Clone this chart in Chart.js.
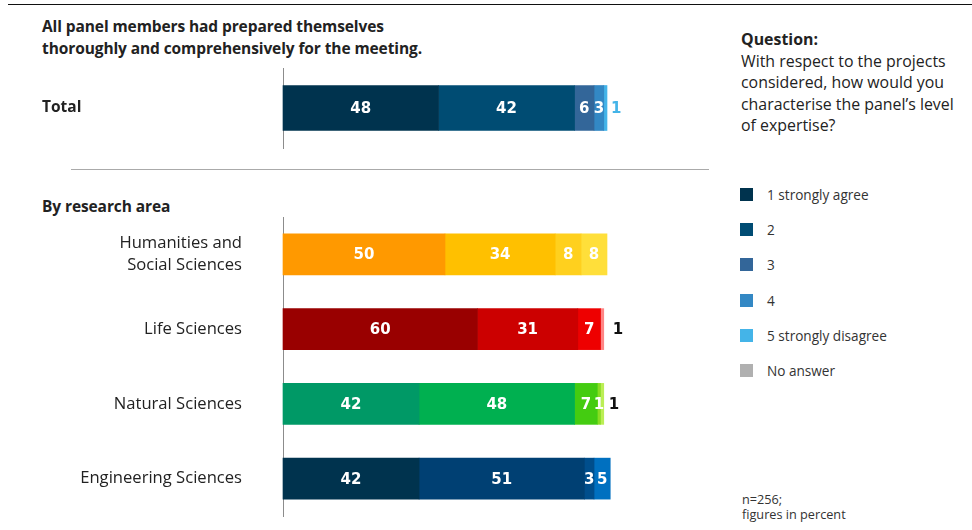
<!DOCTYPE html>
<html>
<head>
<meta charset="utf-8">
<script src="https://cdn.jsdelivr.net/npm/chart.js@4/dist/chart.umd.min.js"></script>
<style>
  html, body { margin: 0; padding: 0; background: #fff; }
  #wrap { position: relative; width: 972px; height: 530px; overflow: hidden; font-family: "Open Sans", Lato, sans-serif; color: #222; }
  .abs { position: absolute; }
  #topline { left: 8px; top: 4px; width: 964px; height: 0; border-top: 1.5px solid #111; }
  #title { left: 42px; top: 15px; font-weight: bold; font-size: 15.5px; line-height: 22px; letter-spacing: -0.1px; }
  #sep { left: 71px; top: 169px; width: 638px; height: 0; border-top: 1.5px solid #aaa; }
  #byarea { left: 42px; top: 195px; font-weight: bold; font-size: 15.5px; line-height: 22px; letter-spacing: -0.1px; }
  #question { left: 741px; top: 29px; font-size: 15.9px; line-height: 21.6px; color: #222; }
  #question b { font-weight: bold; }
  #legend { left: 740px; top: 0; }
  .li { position: absolute; left: 0; width: 240px; height: 20px; }
  .li span.sq { position: absolute; left: 0; top: 3px; width: 13px; height: 13px; }
  .li span.tx { position: absolute; left: 27px; top: 0; font-size: 13.6px; line-height: 20px; color: #333; white-space: nowrap; }
  #foot { left: 742px; top: 492px; font-size: 12.7px; line-height: 15px; color: #333; }
  canvas { position: absolute; left: 0; }
</style>
</head>
<body>
<div id="wrap">
  <div id="topline" class="abs"></div>
  <div id="title" class="abs">All panel members had prepared themselves<br>thoroughly and comprehensively for the meeting.</div>
  <div id="sep" class="abs"></div>
  <div id="byarea" class="abs">By research area</div>
  <div id="question" class="abs"><b>Question:</b><br>With respect to the projects<br>considered, how would you<br>characterise the panel’s level<br>of expertise?</div>
  <div id="legend" class="abs"></div>
  <div id="foot" class="abs">n=256;<br>figures in percent</div>
  <canvas id="c1" width="700" height="100" style="top:60px"></canvas>
  <canvas id="c2" width="700" height="330" style="top:200px"></canvas>
</div>
<script>
// ---- Data ----
const legendLabels = ['1 strongly agree', '2', '3', '4', '5 strongly disagree', 'No answer'];
const totalCategory = ['Total'];
const totalValues = [48, 42, 6, 3, 1];
const areaCategories = [['Humanities and', 'Social Sciences'], 'Life Sciences', 'Natural Sciences', 'Engineering Sciences'];
const humanitiesValues = [50, 34, 8, 8];
const lifeValues = [60, 31, 7, 1];
const naturalValues = [42, 48, 7, 1, 1];
const engineeringValues = [42, 51, 3, 5];

// ---- Styles ----
const legendColors = ['#00334E', '#004C73', '#336699', '#3388C4', '#44B4E8', '#B0B0B0'];
const totalColors = ['#00334E', '#004C73', '#336699', '#3388C4', '#44B4E8'];
const humanitiesColors = ['#FF9900', '#FFC000', '#FFD01E', '#FFDF3A'];
const lifeColors = ['#990000', '#CC0000', '#EE0000', '#FF8585'];
const naturalColors = ['#009966', '#00B050', '#44CC11', '#88DD22', '#BBEE55'];
const engineeringColors = ['#00334E', '#004073', '#004E8C', '#0070C0'];
// label placement: null = inside (white); otherwise outside with colour & offset
const totalLabelOut = [null, null, null, null, {color: '#44B4E8', dx: 4}];
const humanitiesLabelOut = [null, null, null, null];
const lifeLabelOut = [null, null, null, {color: '#111', dx: 9}];
const naturalLabelOut = [null, null, null, null, {color: '#111', dx: 5}];
const engineeringLabelOut = [null, null, null, null];

// ---- Legend (HTML) ----
const legendTop = 185, legendStep = 35.2;
const legendEl = document.getElementById('legend');
legendLabels.forEach((lab, i) => {
  const d = document.createElement('div');
  d.className = 'li';
  d.style.top = (legendTop + i * legendStep) + 'px';
  d.innerHTML = '<span class="sq" style="background:' + legendColors[i] + '"></span><span class="tx">' + lab + '</span>';
  legendEl.appendChild(d);
});

const labelPlugin = {
  id: 'segLabels',
  afterDatasetsDraw(chart) {
    const ctx = chart.ctx;
    const outCfg = chart.options.plugins.segLabels.out;
    ctx.save();
    ctx.font = 'bold 15px "DejaVu Sans", Verdana, sans-serif';
    ctx.textBaseline = 'middle';
    chart.data.datasets.forEach((ds, i) => {
      const meta = chart.getDatasetMeta(i);
      meta.data.forEach((el, j) => {
        const v = ds.data[j];
        if (v === null || v === undefined || v === 0) return;
        const out = outCfg[j][i];
        const p = el.getProps(['x', 'y', 'base'], true);
        if (out) {
          ctx.fillStyle = out.color;
          ctx.textAlign = 'left';
          ctx.fillText(String(v), p.x + out.dx, p.y + 1);
        } else {
          ctx.fillStyle = '#ffffff';
          ctx.textAlign = 'center';
          ctx.fillText(String(v), (p.x + p.base) / 2, p.y + 1);
        }
      });
    });
    ctx.restore();
  }
};

function buildDatasets(rows, colors, n) {
  const ds = [];
  for (let i = 0; i < n; i++) {
    ds.push({
      data: rows.map(r => (r[i] === undefined ? null : r[i])),
      backgroundColor: colors.map(c => c[i] || '#000'),
      borderWidth: 0,
      clip: false
    });
  }
  return ds;
}

function makeChart(id, labels, rows, colors, outs, opts) {
  return new Chart(document.getElementById(id), {
    type: 'bar',
    data: { labels: labels, datasets: buildDatasets(rows, colors, 5) },
    options: {
      indexAxis: 'y',
      responsive: false,
      animation: false,
      events: [],
      datasets: { bar: { barThickness: opts.thickness } },
      layout: { padding: opts.padding },
      plugins: { legend: { display: false }, tooltip: { enabled: false }, segLabels: { out: outs } },
      scales: {
        x: { stacked: true, min: 0, max: 100, display: false },
        y: {
          stacked: true,
          grid: { display: false, drawTicks: false },
          border: { display: true, color: '#8c8c8c', width: 1 },
          ticks: {
            crossAlign: opts.crossAlign,
            padding: opts.tickPadding,
            color: '#222',
            font: opts.tickFont
          },
          afterFit: (scale) => {
            scale.width = opts.axisWidth;
            scale.paddingTop = 0;
            scale.paddingBottom = 0;
          }
        }
      }
    },
    plugins: [labelPlugin]
  });
}

makeChart('c1', totalCategory, [totalValues], [totalColors], [totalLabelOut], {
  thickness: 45,
  padding: { top: 8, bottom: 12, left: 42, right: 93 },
  crossAlign: 'far',
  tickPadding: 0,
  tickFont: { family: 'Open Sans', size: 15.5, weight: 'bold' },
  axisWidth: 241
});

makeChart('c2', areaCategories,
  [humanitiesValues, lifeValues, naturalValues, engineeringValues],
  [humanitiesColors, lifeColors, naturalColors, engineeringColors],
  [humanitiesLabelOut, lifeLabelOut, naturalLabelOut, engineeringLabelOut], {
  thickness: 41,
  padding: { top: 17, bottom: 14, left: 0, right: 93 },
  crossAlign: 'near',
  tickPadding: 41,
  tickFont: { family: 'Open Sans', size: 16.6, weight: 'normal', lineHeight: 1.33 },
  axisWidth: 283
});
</script>
</body>
</html>
